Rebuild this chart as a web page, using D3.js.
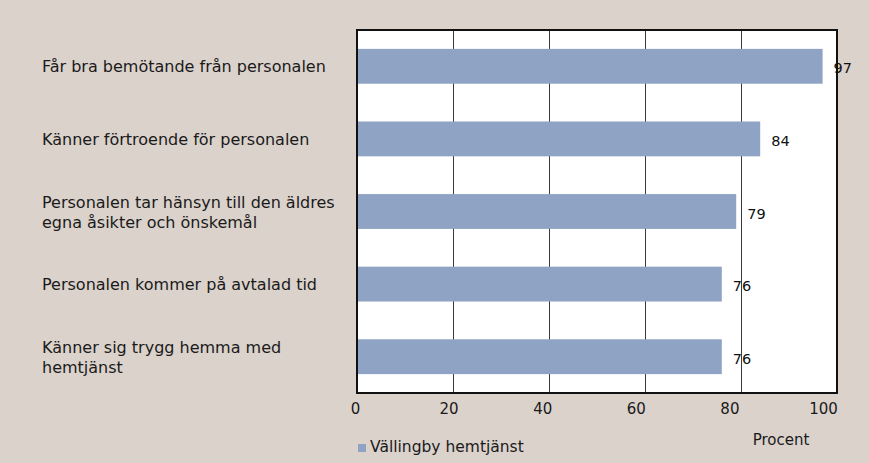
<!DOCTYPE html>
<html><head><meta charset="utf-8">
<script src="https://cdn.jsdelivr.net/npm/d3@7"></script>
<style>
html,body{margin:0;padding:0;background:#dbd2cc;}
svg{display:block;}
</style></head><body>
<svg id="chart" width="869" height="463"></svg>
<script>
const categories = [
  ["Får bra bemötande från personalen"],
  ["Känner förtroende för personalen"],
  ["Personalen tar hänsyn till den äldres", "egna åsikter och önskemål"],
  ["Personalen kommer på avtalad tid"],
  ["Känner sig trygg hemma med", "hemtjänst"]
];
const values = [97, 84, 79, 76, 76];
const tickValues = [0, 20, 40, 60, 80, 100];
const seriesName = "Vällingby hemtjänst";
const axisTitle = "Procent";

(function () {
const svg = d3.select("#chart");
const font = "'DejaVu Sans', sans-serif";
const pLeft = 357, pRight = 837, pTop = 30, pBottom = 393;

const x = d3.scaleLinear().domain([0, 100]).range([pLeft, pRight]);
const y = d3.scaleBand().domain(d3.range(values.length)).range([pTop, pBottom]).paddingInner(0.52).paddingOuter(0.26);

svg.append("rect").attr("x", pLeft).attr("y", pTop).attr("width", pRight - pLeft).attr("height", pBottom - pTop).attr("fill", "#ffffff");

svg.append("g").selectAll("line").data(tickValues.filter(d => d > 0 && d < 100)).join("line")
  .attr("x1", d => x(d) + 0.5).attr("x2", d => x(d) + 0.5).attr("y1", pTop).attr("y2", pBottom)
  .attr("stroke", "#3a3a3a").attr("stroke-width", 1);

svg.append("g").selectAll("rect").data(values).join("rect")
  .attr("x", x(0)).attr("y", (d, i) => y(i)).attr("width", d => x(d) - x(0)).attr("height", y.bandwidth())
  .attr("fill", "#8fa4c4");

svg.append("rect").attr("x", pLeft).attr("y", pTop).attr("width", pRight - pLeft).attr("height", pBottom - pTop)
  .attr("fill", "none").attr("stroke", "#111").attr("stroke-width", 2);

svg.append("g").selectAll("text").data(values).join("text")
  .attr("x", d => x(d) + 11).attr("y", (d, i) => y(i) + y.bandwidth() / 2 + 7)
  .attr("font-family", font).attr("font-size", 14.5).attr("fill", "#111").text(d => d);

const cat = svg.append("g").selectAll("text").data(categories).join("text")
  .attr("font-family", font).attr("font-size", 16).attr("fill", "#1a1a1a")
  .attr("y", (d, i) => y(i) + y.bandwidth() / 2 + 6 - (d.length - 1) * 10);
cat.selectAll("tspan").data(d => d).join("tspan")
  .attr("x", 42).attr("dy", (d, i) => i === 0 ? 0 : 20).text(d => d);

const axis = d3.axisBottom(x).tickValues(tickValues).tickSize(0).tickPadding(10);
const ag = svg.append("g").attr("transform", `translate(0,${pBottom})`).call(axis);
ag.select(".domain").remove();
ag.selectAll("text").attr("font-family", font).attr("font-size", 15).attr("fill", "#1a1a1a")
  .attr("dx", d => -(2 + d * 0.12));

svg.append("text").attr("x", 781).attr("y", 445).attr("text-anchor", "middle")
  .attr("font-family", font).attr("font-size", 15).attr("fill", "#1a1a1a").text(axisTitle);

svg.append("rect").attr("x", 358).attr("y", 444).attr("width", 8).attr("height", 8).attr("fill", "#8fa4c4");
svg.append("text").attr("x", 370).attr("y", 452).attr("font-family", font).attr("font-size", 15.5)
  .attr("fill", "#1a1a1a").text(seriesName);
})();
</script>
</body></html>
